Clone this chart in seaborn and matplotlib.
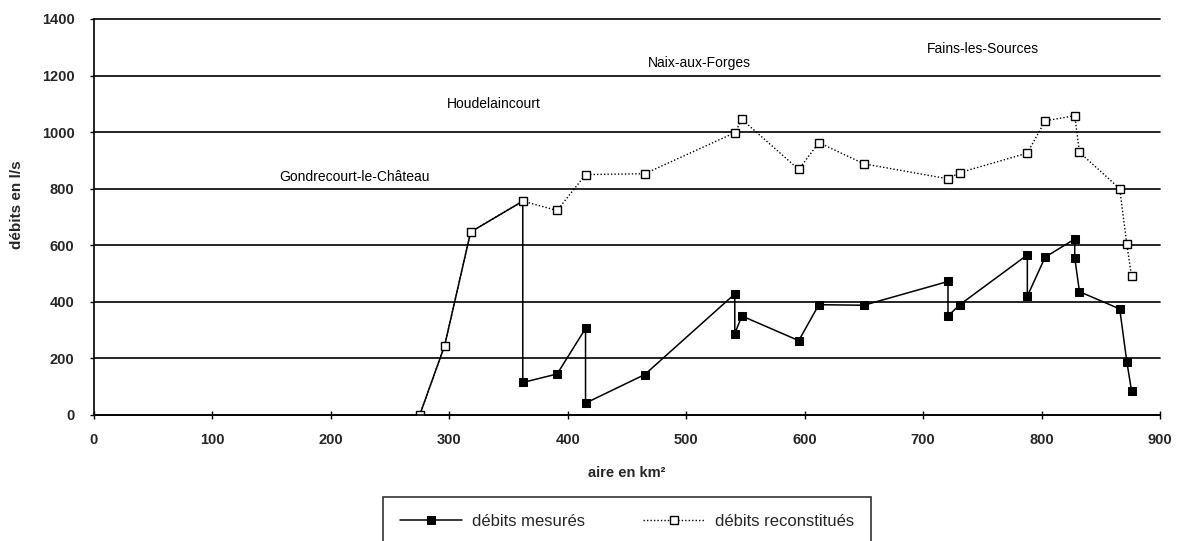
import matplotlib
matplotlib.use("Agg")
import matplotlib.pyplot as plt
import seaborn as sns
import pandas as pd

sns.set_theme(style="white")
plt.rcParams["font.family"] = ["Liberation Sans", "DejaVu Sans"]

# aire en km² (shared by both series, duplicates = confluences)
aire_mes = [275, 296, 318, 362, 362, 391, 415, 415, 465, 541, 541, 547, 595,
            612, 650, 721, 721, 731, 788, 788, 803, 828, 828, 832, 866, 872, 876]
debits_mesures = [0, 245, 647, 756, 115, 145, 306, 42, 143, 428, 288, 350, 263,
                  390, 388, 472, 350, 390, 566, 420, 558, 622, 556, 436, 375, 188, 85]

aire_rec = [275, 296, 318, 362, 391, 415, 465, 541, 547, 595, 612, 650, 721,
            731, 788, 803, 828, 832, 866, 872, 876]
debits_reconstitues = [0, 245, 647, 756, 723, 850, 853, 998, 1045, 868, 963,
                       888, 835, 857, 926, 1040, 1058, 929, 800, 603, 490]

stations = ["Gondrecourt-le-Château", "Houdelaincourt", "Naix-aux-Forges", "Fains-les-Sources"]
station_x = [156, 298, 468, 703]
station_y = [840, 1100, 1246, 1295]

mes = pd.DataFrame({"aire": aire_mes, "debit": debits_mesures})
rec = pd.DataFrame({"aire": aire_rec, "debit": debits_reconstitues})

fig = plt.figure(figsize=(11.77, 5.41), dpi=100)
ax = fig.add_axes([94 / 1177, 1 - 415 / 541, (1160 - 94) / 1177, (415 - 19) / 541])

sns.lineplot(data=mes, x="aire", y="debit", sort=False, estimator=None, ax=ax,
             color="black", linewidth=1.1, marker="s", markersize=5.5,
             markerfacecolor="black", markeredgecolor="black",
             label="débits mesurés")
sns.lineplot(data=rec, x="aire", y="debit", sort=False, estimator=None, ax=ax,
             color="black", linewidth=1.0, linestyle=(0, (1, 1.5)), marker="s",
             markersize=5.5, markerfacecolor="white", markeredgecolor="black",
             markeredgewidth=1.0, label="débits reconstitués")

for name, x, y in zip(stations, station_x, station_y):
    ax.text(x, y, name, fontsize=10, ha="left", va="center", color="black")

ax.set_xlim(0, 900)
ax.set_ylim(0, 1400)
ax.set_xticks(range(0, 901, 100))
ax.set_yticks(range(0, 1401, 200))
for t in ax.get_yticks():
    ax.axhline(t, color="black", linewidth=1.2, zorder=0.5, clip_on=False)

for s in ["top", "right"]:
    ax.spines[s].set_visible(False)
for s in ["left", "bottom"]:
    ax.spines[s].set_color("black")
    ax.spines[s].set_linewidth(1.2)

ax.tick_params(axis="x", direction="inout", length=6, width=1, color="black",
               pad=10, labelsize=10.5, bottom=True)
ax.tick_params(axis="y", direction="out", length=3, width=1, color="black",
               pad=11, labelsize=10.5, left=True)
for lbl in ax.get_xticklabels() + ax.get_yticklabels():
    lbl.set_fontweight("bold")

ax.set_xlabel("aire en km²", fontsize=10.5, fontweight="bold")
ax.xaxis.set_label_coords(0.5, -0.128)
ax.set_ylabel("débits en l/s", fontsize=11, fontweight="bold")
ax.yaxis.set_label_coords(-0.066, 0.53)

handles, labels = ax.get_legend_handles_labels()
ax.get_legend().remove()
leg = fig.legend(handles, labels, loc="upper center", ncol=2,
                 bbox_to_anchor=(627 / 1177, 1 - 497 / 541), fontsize=12,
                 frameon=True, fancybox=False, edgecolor="black",
                 handlelength=3.7, handletextpad=0.6, columnspacing=3.5,
                 borderpad=1.0, borderaxespad=0)
leg.get_frame().set_linewidth(1.2)

fig.savefig("out.png", dpi=100, facecolor="white")
